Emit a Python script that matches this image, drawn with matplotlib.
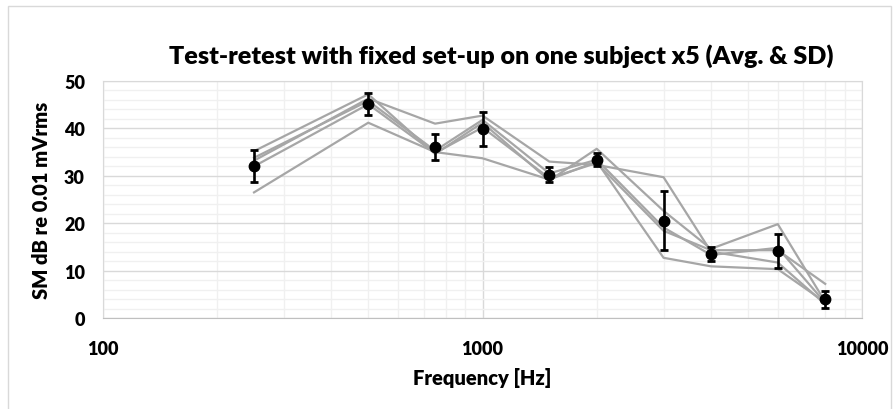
import matplotlib
matplotlib.use("Agg")
import matplotlib.pyplot as plt
from matplotlib.patches import Rectangle
from matplotlib.ticker import FixedLocator, NullFormatter
import numpy as np

# frecuencias de medida [Hz]
freqs = np.array([250, 500, 750, 1000, 1500, 2000, 3000, 4000, 6000, 8000])

# cinco repeticiones sobre el mismo sujeto, SM en dB re 0.01 mVrms
run1 = np.array([26.5, 41.2, 35.0, 33.7, 29.2, 33.0, 12.7, 10.9, 10.3, 3.3])
run2 = np.array([33.2, 46.3, 41.0, 42.7, 33.0, 32.3, 29.7, 14.0, 11.7, 2.9])
run3 = np.array([35.2, 47.2, 34.6, 41.2, 29.0, 35.7, 22.6, 14.6, 19.8, 3.4])
run4 = np.array([33.8, 45.8, 35.3, 41.8, 30.5, 33.4, 19.1, 13.3, 14.8, 3.2])
run5 = np.array([32.0, 45.1, 34.8, 40.2, 29.5, 32.7, 18.4, 14.3, 14.3, 7.2])
runs = [run1, run2, run3, run4, run5]

# media y desviacion estandar de las repeticiones
stack = np.vstack(runs)
avg = stack.mean(axis=0)
sd = stack.std(axis=0, ddof=1)

plt.rcParams["font.family"] = ["Lato", "DejaVu Sans"]
plt.rcParams["font.weight"] = "bold"

fig = plt.figure(figsize=(8.94, 4.10), dpi=100)
ax = fig.add_axes([103 / 894, 1 - 319 / 410, (862 - 103) / 894, (319 - 82) / 410])

# marco del grafico
fig.patches.append(Rectangle((8 / 894, -0.01), 883 / 894, 1 - 7 / 410 + 0.01,
                             transform=fig.transFigure, fill=False,
                             edgecolor="#d9d9d9", linewidth=1.0))

for r in runs:
    ax.plot(freqs, r, color="#a6a6a6", linewidth=1.6, zorder=2)

ax.errorbar(freqs, avg, yerr=sd, fmt="o", color="black", markersize=7.5,
            elinewidth=1.9, capsize=2.8, capthick=2.0, zorder=3)

ax.set_xscale("log")
ax.set_xlim(100, 10000)
ax.set_ylim(0, 50)

ax.xaxis.set_major_locator(FixedLocator([100, 1000, 10000]))
ax.set_xticklabels(["100", "1000", "10000"])
minor_x = [m * 10 ** k for k in (2, 3) for m in range(2, 10)]
ax.xaxis.set_minor_locator(FixedLocator(minor_x))
ax.xaxis.set_minor_formatter(NullFormatter())
ax.set_yticks(np.arange(0, 51, 10))
ax.set_yticks(np.arange(0, 51, 2), minor=True)

ax.grid(which="major", color="#d9d9d9", linewidth=1.0, zorder=0)
ax.grid(which="minor", color="#f0f0f0", linewidth=1.0, zorder=0)
ax.set_axisbelow(True)

ax.tick_params(which="both", length=0)
ax.tick_params(axis="x", pad=16, labelsize=13)
ax.tick_params(axis="y", pad=13, labelsize=13)
for lab in ax.get_xticklabels() + ax.get_yticklabels():
    lab.set_fontweight("heavy")

for side in ["left", "right", "top"]:
    ax.spines[side].set_color("#d9d9d9")
ax.spines["bottom"].set_color("#bfbfbf")

ax.set_title("Test-retest with fixed set-up on one subject x5 (Avg. & SD)",
             fontsize=18.1, fontweight="heavy", pad=13, x=0.525)
ax.set_xlabel("Frequency [Hz]", fontsize=14.5, fontweight="heavy", labelpad=7)
ax.set_ylabel("SM dB re 0.01 mVrms", fontsize=14.5, fontweight="heavy", labelpad=9)

fig.savefig("out.png", dpi=100)
